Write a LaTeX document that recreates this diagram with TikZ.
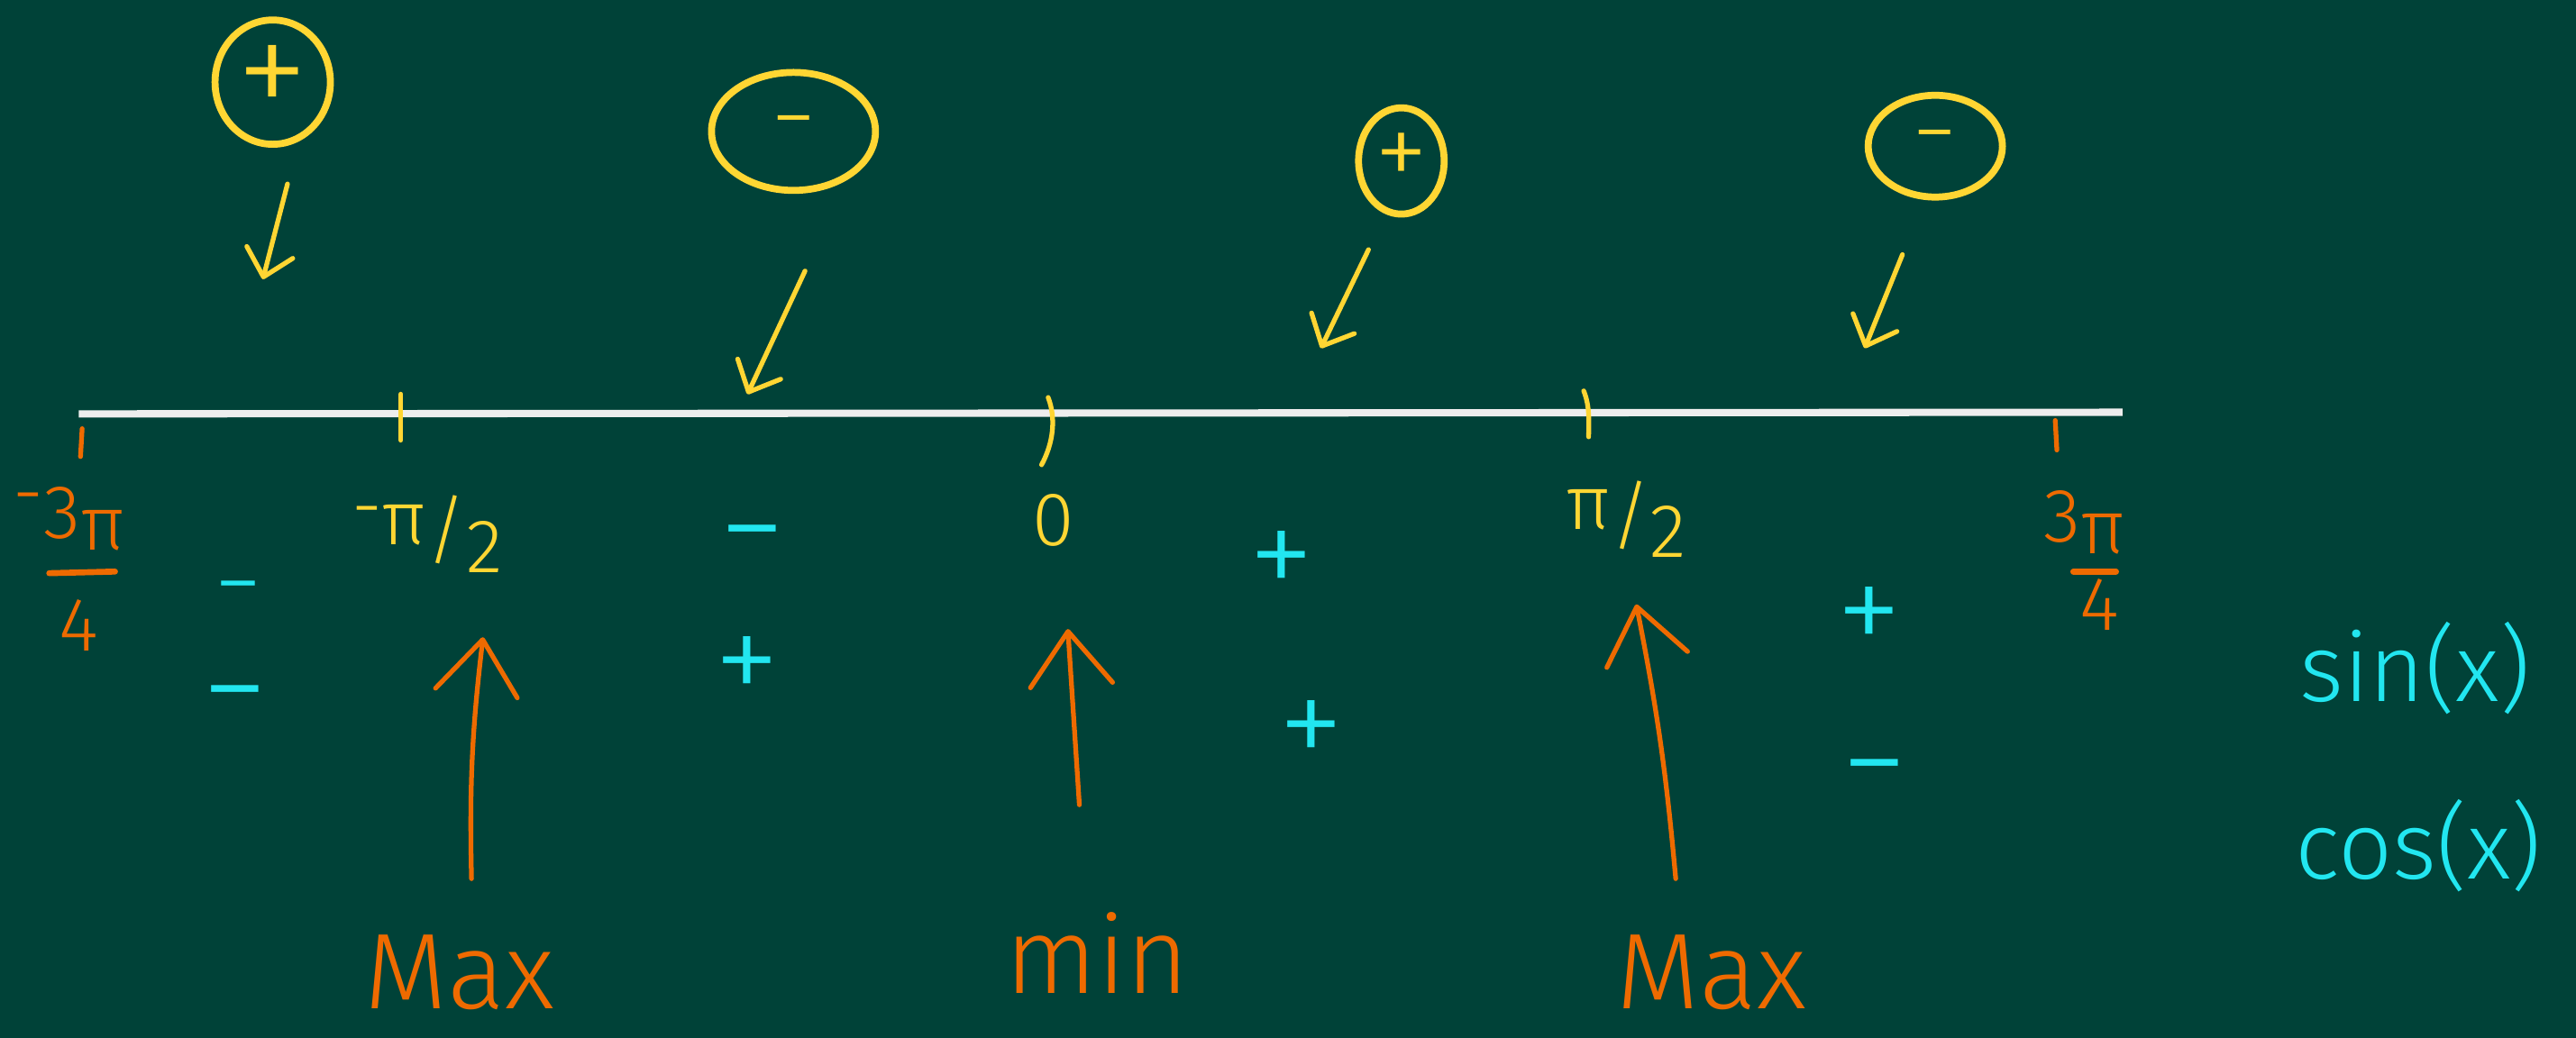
\documentclass[tikz,border=0pt]{standalone}
\usepackage{fontspec}
\setmainfont{Fira Sans Light}
\usetikzlibrary{arrows.meta,shapes.geometric}
\definecolor{bg}{HTML}{004238}
\definecolor{hy}{HTML}{FFD633}
\definecolor{ho}{HTML}{EE6A00}
\definecolor{hc}{HTML}{22E6F0}
\definecolor{hw}{HTML}{EEEEEE}
\tikzset{
  axisline/.style={draw=hw, line width=2.3pt},
  ytick/.style={draw=hy, line width=1.5pt, line cap=round},
  otick/.style={draw=ho, line width=1.5pt, line cap=round},
  yarrow/.style={draw=hy, line width=1.5pt, line cap=round, -{Straight Barb[round,length=8pt,width=15pt]}},
  oarrow/.style={draw=ho, line width=1.5pt, line cap=round, -{Straight Barb[round,length=17pt,width=26pt]}},
  yell/.style={ellipse, draw=hy, line width=2.2pt, text=hy, inner sep=0pt},
  ylab/.style={text=hy, inner sep=0pt, font=\fontsize{24}{26}\selectfont},
  olab/.style={text=ho, inner sep=0pt, font=\fontsize{24}{26}\selectfont},
  word/.style={text=ho, inner sep=0pt, font=\fontsize{34}{36}\selectfont},
  sgn/.style={text=hc, inner sep=0pt, font=\fontsize{42}{42}\selectfont},
  fn/.style={text=hc, inner sep=0pt, font=\fontsize{30}{32}\selectfont},
  fbar/.style={draw=ho, line width=1.9pt, line cap=round}
}
\begin{document}
\begin{tikzpicture}[x=0.018227cm, y=-0.018227cm]
\fill[bg] (0,0) rectangle (1568,632);
\useasboundingbox (0,0) rectangle (1568,632);

% axis
\coordinate (axL) at (48,252);
\coordinate (axR) at (1292,251);
\draw[axisline] (axL) -- (axR);

% ticks
\draw[otick] (50,261) -- (49,278);
\draw[ytick] (244,240) -- (244,268);
\draw[ytick] (638,242) .. controls (643,255) and (641,270) .. (634,283);
\draw[ytick] (964,238) .. controls (968,248) and (967,258) .. (967,266);
\draw[otick] (1251,256) -- (1252,274);

% tick labels
\node[olab] (lnum) at (42,316) {\raisebox{0.5ex}{-}3\raisebox{-0.3ex}{π}};
\coordinate (lbarL) at (30,349);
\coordinate (lbarR) at (70,348);
\draw[fbar] (lbarL) -- (lbarR);
\node[olab] (lden) at (48,381) {4};

\node[ylab] (mhalf) at (260,325) {\raisebox{0.3ex}{-}π\raisebox{-0.3ex}{/}\raisebox{-0.7ex}{2}};
\node[ylab] (zero) at (641,317) {0};
\node[ylab] (phalf) at (990,316) {π\raisebox{-0.3ex}{/}\raisebox{-0.7ex}{2}};

\node[olab] (rnum) at (1269,318) {3\raisebox{-0.3ex}{π}};
\coordinate (rbarL) at (1262,348);
\coordinate (rbarR) at (1288,348);
\draw[fbar] (rbarL) -- (rbarR);
\node[olab] (rden) at (1278,368) {4};

% sign rows
\node[sgn, font=\fontsize{30}{30}\selectfont] (s1) at (145,364) {−};
\node[sgn] (c1) at (143,432) {−};
\node[sgn] (s2) at (458,334) {−};
\node[sgn] (c2) at (455,408) {+};
\node[sgn] (s3) at (780,344) {+};
\node[sgn] (c3) at (798,447) {+};
\node[sgn] (s4) at (1138,378) {+};
\node[sgn] (c4) at (1141,477) {−};

\node[fn] (sinx) at (1470,407) {sin(x)};
\node[fn] (cosx) at (1472,515) {cos(x)};

% top circled signs
\node[yell, minimum width=1.28cm, minimum height=1.38cm, font=\fontsize{46}{46}\selectfont] (e1) at (166,50) {+};
\node[yell, minimum width=1.82cm, minimum height=1.31cm, font=\fontsize{28}{28}\selectfont] (e2) at (483,80) {−};
\node[yell, minimum width=0.95cm, minimum height=1.18cm, font=\fontsize{34}{34}\selectfont] (e3) at (853,98) {+};
\node[yell, minimum width=1.49cm, minimum height=1.13cm, font=\fontsize{28}{28}\selectfont] (e4) at (1178,89) {−};

% yellow down arrows
\coordinate (d1s) at (175,112); \coordinate (d1e) at (160,170);
\coordinate (d2s) at (490,165); \coordinate (d2e) at (455,240);
\coordinate (d3s) at (833,152); \coordinate (d3e) at (804,212);
\coordinate (d4s) at (1158,155); \coordinate (d4e) at (1135,212);
\draw[yarrow] (d1s) -- (d1e);
\draw[yarrow] (d2s) -- (d2e);
\draw[yarrow] (d3s) -- (d3e);
\draw[yarrow] (d4s) -- (d4e);

% orange up arrows
\coordinate (u1s) at (287,535); \coordinate (u1e) at (294,388);
\coordinate (u2s) at (657,490); \coordinate (u2e) at (650,383);
\coordinate (u3s) at (1020,535); \coordinate (u3e) at (996,368);
\draw[oarrow] (u1s) to[bend left=4] (u1e);
\draw[oarrow] (u2s) -- (u2e);
\draw[oarrow] (u3s) to[bend right=3] (u3e);

% words
\node[word] (max1) at (280,592) {Max};
\node[word] (min) at (668,580) {min};
\node[word] (max2) at (1042,592) {Max};
\end{tikzpicture}
\end{document}
